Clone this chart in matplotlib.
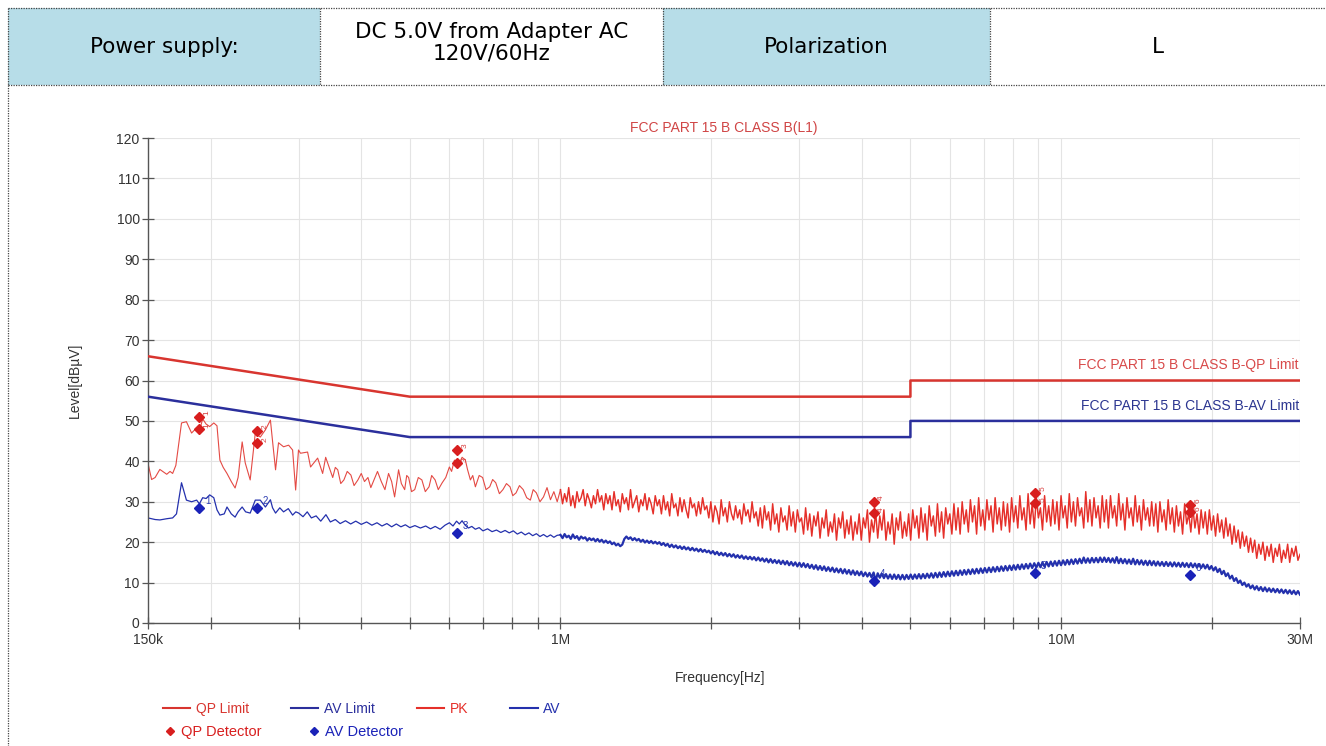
import numpy as np
import matplotlib
matplotlib.use("Agg")
import matplotlib.pyplot as plt
from matplotlib.patches import Rectangle
from matplotlib.lines import Line2D

# ---------------- data ----------------
# low-frequency part of the sweep (kHz, dBuV)
pk_low_freq_khz = [150, 152.5, 155, 158.4, 163.5, 166, 168, 170.5, 175, 179, 183.3, 187.6, 190, 192.9,
                   196, 199.2, 203, 206, 208.8, 212, 215.7, 220, 223.9, 227, 231.3, 234.6, 240, 245.7,
                   251.4, 257.4, 263.4, 266.5, 269.7, 273.4, 279.8, 286.4, 291.7, 295.8, 299.7, 302.5,
                   312.5, 316.8, 327.3, 334.9, 339.6, 350.8, 355, 359, 364, 369.3, 375, 381.4, 387,
                   393.9, 400, 406, 412.5, 418, 424.1, 431, 438.6, 446, 453.5, 460, 466.3, 474.9, 481,
                   488.4, 493, 497.4, 504, 511.5, 520, 528.6, 537, 546.3, 553, 561.8, 570, 580.4, 590,
                   599.9, 606, 613.9, 620, 628.2, 636, 645.7, 652, 660.8, 668, 676.1, 688, 698.9, 710,
                   722.2, 732, 742.5, 755, 767.4, 780, 792.9, 803, 815.2, 828, 842.5, 856, 870.6, 882,
                   895, 910, 924.9, 940, 955, 970, 985]
pk_low_level = [39.5, 35.5, 36, 38, 36.8, 37.5, 37, 39, 49.5, 49.8, 47, 48.3, 47.5, 50.5,
                49.2, 48.6, 49.5, 48.8, 40.3, 38.5, 37, 35, 33.4, 36, 44.8, 39.6, 35.4, 47,
                46, 47.8, 50.2, 44, 37.9, 44.6, 43.6, 44, 42.8, 32.9, 42.8, 42,
                42.3, 38.6, 40.8, 37, 41, 36, 38.5, 37.9, 34.5, 35.4, 37.5, 36.6, 34,
                35.4, 37, 35, 36, 33.5, 35.4, 37.5, 35, 33, 37, 35, 31.2, 37.9, 34.5,
                33, 36.5, 36, 32.5, 33, 36, 35.4, 32.5, 33.7, 36.5, 35.4, 33, 34.7, 36,
                38.6, 37.5, 40.3, 38.5, 39.6, 41, 40.3, 38, 35.4, 36.5, 33.7, 36.5, 36, 33,
                33.7, 35.5, 34.7, 32, 33, 34.5, 33.7, 31.5, 32.2, 34, 33, 31, 30.4, 33,
                32.2, 30, 31.2, 33.5, 30.5, 32.5, 30]

av_low_freq_khz = [150, 155, 158.4, 163.5, 168, 171, 175, 179, 183.3, 187.6, 190, 192.9, 196, 199.2,
                   203, 206, 208.8, 213, 215.7, 220, 223.9, 227, 231.3, 235, 240, 245.7, 251.4, 257.4,
                   263.4, 266, 269.7, 275, 279.8, 286, 291.7, 296, 300, 306, 312, 318, 325, 332, 340,
                   347, 355, 363, 372, 381, 390, 400, 410, 420, 430, 440, 450, 460, 470, 480, 490,
                   500, 512, 525, 538, 550, 562, 575, 588, 600, 610, 620, 628, 636, 645, 655, 665,
                   676, 688, 700, 715, 730, 745, 760, 775, 790, 805, 820, 835, 850, 865, 880, 895,
                   910, 925, 940, 955, 970, 985]
av_low_level = [26, 25.6, 25.5, 25.8, 26, 27, 34.7, 30.4, 30, 30.4, 29.5, 31, 30.8, 31.7,
                31, 28, 26.7, 27, 28.7, 27, 26.2, 27.5, 28.7, 27.5, 27.2, 30.4, 30.4, 28.7,
                30.5, 28.5, 27.2, 28.5, 27.5, 28.3, 26.7, 27.5, 27.2, 26.3, 27.5, 26, 26.5, 25.2, 26.8,
                25, 25.6, 24.6, 25.3, 24.5, 25.2, 24.4, 25, 24.2, 24.8, 24, 24.6, 23.8, 24.5, 23.8, 24.3,
                23.6, 24.1, 23.5, 24, 23.3, 23.9, 23.2, 24.2, 24.8, 24, 25.2, 24.5, 25.3, 24.2, 23.5, 23.9,
                23.2, 23.6, 22.8, 23.3, 22.6, 23, 22.4, 22.9, 22.3, 22.8, 22, 22.5, 21.8, 22.3, 21.6, 22.1,
                21.4, 21.9, 21.3, 21.8, 21.2, 21.7]

# 1 MHz - 30 MHz part of the sweep (equally spaced on the log axis)
n_high = 360
pk_high_level = [
    33, 29.5, 32, 30, 33.5, 29, 31.5, 28.5, 32.5, 30, 31, 33, 29, 32, 30.5, 28.5, 31.5, 29.5, 33, 30, 31.5, 28, 32, 29.5,
    31.5, 28, 32.5, 29, 30.5, 27.5, 32, 29.5, 31, 28, 33, 28.5, 30, 31.5, 27.5, 30.5, 29, 32, 28, 31, 29.5, 27, 31.5, 29,
    30.5, 27, 31.5, 28, 30, 26.5, 32, 28.5, 29.5, 26.5, 31, 27.5, 30.5, 28, 26, 31, 28.5, 29.5, 26.5, 30, 27, 31, 28, 29,
    26, 30, 25, 29, 27.5, 24.5, 30.5, 26.5, 28.5, 25, 30, 27, 25.5, 29, 26, 28, 24.5, 29.5, 26.5, 28, 25, 30, 26, 27.5,
    24, 28.5, 23.5, 29, 25.5, 27.5, 23, 29.5, 24.5, 27, 22.5, 28.5, 25, 26.5, 23, 29, 24, 27.5, 22.5, 28, 25, 26, 22, 28.5,
    23, 27, 21.5, 26.5, 24, 27.5, 21, 26, 23.5, 28, 21.5, 25, 22.5, 27, 20.5, 26, 23.5, 27.5, 21, 25.5, 22, 26.5, 20.5, 25,
    22, 27, 20.5, 26, 23.5, 28, 20, 25.5, 22.5, 27.5, 21, 26.5, 23, 28, 20.5, 25, 22, 27, 19.5, 26, 23, 27.5, 21, 25,
    21.5, 27, 20.5, 28, 23.5, 26.5, 21, 28.5, 22.5, 27, 20.5, 29, 24, 26.5, 21.5, 29.5, 22.5, 27.5, 21, 28.5, 24.5, 27, 22, 29.5,
    23, 28.5, 22, 30, 24.5, 28, 22.5, 30.5, 25, 29, 22, 31, 24, 28, 23, 30.5, 25.5, 29, 22.5, 31, 24.5, 28.5, 23, 30,
    24, 29.5, 22.5, 31, 25, 29, 23.5, 31.5, 25.5, 28.5, 23, 32, 24.5, 29.5, 23.5, 31, 26, 28.5, 23, 31.5, 25, 29, 24, 30.5,
    24.5, 30, 23, 31.5, 26, 29, 23.5, 32, 25, 30, 24, 31, 26.5, 28.5, 23.5, 32.5, 25, 30.5, 24, 31, 26, 29, 23.5, 31.5,
    25, 30.5, 23.5, 31.5, 26, 29, 24, 32, 25.5, 29.5, 23, 31, 26, 28.5, 24, 31.5, 25, 29, 23, 30.5, 25.5, 28.5, 24, 30,
    24, 29.5, 22.5, 30, 25, 28, 23, 30.5, 24.5, 28.5, 22.5, 29, 24, 27.5, 22, 29.5, 24.5, 27, 22.5, 28.5, 23.5, 27, 22, 28,
    23.5, 27.5, 22, 28, 23, 26.5, 21.5, 27, 22.5, 25.5, 21, 26, 21.5, 24.5, 19.5, 24, 20, 23, 18.5, 22.5, 19, 21.5, 17.5, 21,
    17.5, 20.5, 16, 19.5, 17, 20, 15.5, 19, 16.5, 19.5, 15, 18.5, 16.5, 19.5, 15, 18, 16, 19.5, 15, 18.5, 16.5, 19, 15.5, 17,
]
av_high_level = [
    21.8, 21, 22, 21.2, 21.6, 20.8, 21.9, 21, 21.5, 20.6, 21.4, 20.9, 21.2, 20.4, 21, 20.5, 20.9, 20.2, 20.8, 20.1, 20.6, 19.9, 20.4, 19.8,
    20.2, 19.5, 19.9, 19.2, 19.6, 19, 19.4, 20.8, 21.4, 20.8, 21.2, 20.5, 21, 20.4, 20.8, 20.1, 20.6, 19.9, 20.4, 19.8, 20.3, 19.7, 20.1, 19.6,
    20, 19.3, 19.8, 19.1, 19.6, 18.8, 19.4, 18.7, 19.2, 18.5, 19, 18.3, 18.9, 18.2, 18.7, 18, 18.6, 17.9, 18.4, 17.7, 18.3, 17.6, 18.1, 17.5,
    17.9, 17.2, 17.8, 17, 17.6, 16.8, 17.4, 16.7, 17.3, 16.5, 17.1, 16.4, 17, 16.2, 16.8, 16.1, 16.7, 15.9, 16.5, 15.8, 16.4, 15.7, 16.3, 15.5,
    16.2, 15.4, 16, 15.2, 15.9, 15, 15.8, 14.9, 15.6, 14.8, 15.5, 14.6, 15.4, 14.5, 15.3, 14.3, 15.1, 14.2, 15, 14, 14.9, 13.9, 14.8, 13.8,
    14.6, 13.6, 14.4, 13.4, 14.3, 13.2, 14.1, 13.1, 14, 12.9, 13.8, 12.8, 13.7, 12.6, 13.5, 12.5, 13.4, 12.3, 13.3, 12.2, 13.1, 12, 13, 11.9,
    12.8, 11.8, 12.7, 11.6, 12.5, 11.5, 12.4, 11.3, 12.5, 10.5, 12.3, 11.2, 12.2, 11.1, 12.1, 11, 12, 10.9, 12, 10.9, 11.9, 10.8, 11.9, 10.8,
    11.9, 10.9, 12, 10.9, 12, 11, 12.1, 11, 12.1, 11.1, 12.2, 11.2, 12.3, 11.2, 12.4, 11.3, 12.5, 11.4, 12.6, 11.5, 12.7, 11.6, 12.8, 11.7,
    12.9, 11.8, 13, 11.9, 13.1, 12, 13.2, 12.1, 13.3, 12.2, 13.4, 12.3, 13.5, 12.4, 13.6, 12.5, 13.7, 12.6, 13.8, 12.7, 13.9, 12.8, 14, 12.9,
    14.1, 13, 14.2, 13.1, 14.3, 13.2, 14.4, 13.3, 14.5, 13.4, 14.6, 13.5, 14.7, 13.6, 14.8, 13.7, 14.9, 13.8, 15, 13.9, 15.1, 14, 15.2, 14.1,
    15.3, 14.2, 15.4, 14.3, 15.5, 14.4, 15.6, 14.5, 15.7, 14.6, 15.8, 14.7, 15.9, 14.8, 16.2, 14.9, 16, 14.9, 16.1, 15, 16.1, 15, 16.2, 15.1,
    16.2, 15.1, 16.1, 15, 16, 14.9, 16.3, 14.8, 15.9, 14.8, 15.8, 14.7, 15.7, 14.6, 15.9, 14.5, 15.6, 14.5, 15.5, 14.4, 15.4, 14.3, 15.4, 14.3,
    15.3, 14.2, 15.2, 14.2, 15.1, 14.1, 15.1, 14.1, 15, 14, 15, 14, 14.9, 13.9, 14.9, 13.9, 14.8, 13.8, 14.8, 13.8, 14.7, 13.7, 14.6, 13.6,
    14.5, 13.5, 14.4, 13.3, 14.1, 13, 13.8, 12.6, 13.4, 12.1, 12.9, 11.6, 12.3, 11, 11.7, 10.4, 11.1, 9.9, 10.5, 9.4, 10, 9, 9.6, 8.6,
    9.3, 8.3, 9.1, 8.1, 8.9, 7.9, 8.8, 7.8, 8.6, 7.7, 8.5, 7.6, 8.4, 7.5, 8.3, 7.4, 8.2, 7.3, 8.1, 7.2, 8, 7.1, 7.9, 7,
]

# limits (Hz, dBuV)
qp_limit_freq = [150e3, 500e3, 5e6, 5e6, 30e6]
qp_limit_level = [66, 56, 56, 60, 60]
av_limit_freq = [150e3, 500e3, 5e6, 5e6, 30e6]
av_limit_level = [56, 46, 46, 50, 50]

# detector readings
det_freq_khz = [190, 248, 622, 4230, 8880, 18100]
qp_det_hi = [51.0, 47.5, 42.8, 30.0, 32.2, 29.2]
qp_det_lo = [48.0, 44.6, 39.6, 27.2, 29.7, 27.5]
av_det = [28.5, 28.5, 22.3, 10.3, 12.4, 11.9]

x_ticks = [150e3, 1e6, 10e6, 30e6]
x_tick_labels = ["150k", "1M", "10M", "30M"]
y_ticks = list(range(0, 121, 10))

header_cells = ["Power supply:", "DC 5.0V from Adapter AC\n120V/60Hz", "Polarization", "L"]

# ---------------- figure ----------------
W, H = 1326, 746
NARROW = ['Liberation Sans Narrow', 'Liberation Sans', 'DejaVu Sans']
WIDE = ['DejaVu Sans']
fig = plt.figure(figsize=(W / 100, H / 100), dpi=100)
fig.patch.set_facecolor('white')

# overlay in pixel coordinates for the table
bg = fig.add_axes([0, 0, 1, 1], zorder=0)
bg.set_xlim(0, W)
bg.set_ylim(H, 0)
bg.axis('off')

col_edges = [8, 320, 663, 990, 1326]
row_top, row_bot = 8, 85
cell_fill = ['#b7dde8', 'white', '#b7dde8', 'white']
dot = dict(color='#444444', lw=0.9, linestyle=(0, (1, 1)))
for i, txt in enumerate(header_cells):
    x0, x1 = col_edges[i], col_edges[i + 1]
    bg.add_patch(Rectangle((x0, row_top), x1 - x0, row_bot - row_top, facecolor=cell_fill[i], edgecolor='none'))
    yc = 43 if '\n' in txt else 47
    bg.text((x0 + x1) / 2, yc, txt, ha='center', va='center',
            fontsize=15.5, family=WIDE, color='black', linespacing=1.12)
bg.plot([8, W], [row_top, row_top], **dot)
bg.plot([8, W], [row_bot, row_bot], **dot)
for xe in col_edges[:-1]:
    bg.plot([xe, xe], [row_top, row_bot], **dot)
bg.plot([8, 8], [row_bot, H], **dot)

# ---------------- chart ----------------
ax = fig.add_axes([148 / W, 1 - 623 / H, (1300 - 148) / W, (623 - 138) / H], zorder=1)
ax.set_facecolor('none')
ax.set_xscale('log')

pk_low_freq = np.array(pk_low_freq_khz) * 1e3
av_low_freq = np.array(av_low_freq_khz) * 1e3
high_freq = np.geomspace(1e6, 30e6, n_high)

red_lim = '#d8352f'
blue_lim = '#2b2f9c'
red_tr = '#e5302a'
blue_tr = '#2431ad'

ax.plot(qp_limit_freq, qp_limit_level, color=red_lim, lw=1.8, zorder=3)
ax.plot(av_limit_freq, av_limit_level, color=blue_lim, lw=1.8, zorder=3)
# PK trace: low part thin, dense high part drawn a little heavier
ax.plot(np.concatenate([pk_low_freq, high_freq[:1]]), pk_low_level + pk_high_level[:1],
        color='#e44a44', lw=0.8, zorder=2)
ax.plot(high_freq, pk_high_level, color=red_tr, lw=1.05, zorder=2)
ax.plot(np.concatenate([av_low_freq, high_freq[:1]]), av_low_level + av_high_level[:1],
        color=blue_tr, lw=0.9, zorder=2)
ax.plot(high_freq, av_high_level, color=blue_tr, lw=1.6, zorder=2)

det_freq = np.array(det_freq_khz) * 1e3
ax.plot(det_freq, qp_det_hi, 'D', color='#d81e1e', ms=5.5, zorder=4)
ax.plot(det_freq, qp_det_lo, 'D', color='#d81e1e', ms=5.5, zorder=4)
ax.plot(det_freq, av_det, 'D', color='#1a22b8', ms=5.5, zorder=4)
for i, f in enumerate(det_freq):
    ax.annotate(str(i + 1), (f, qp_det_hi[i]), xytext=(3, 3), textcoords='offset points',
                fontsize=6, color='#d84040', rotation=90, family=NARROW)
    ax.annotate(str(i + 1), (f, qp_det_lo[i]), xytext=(3, 2), textcoords='offset points',
                fontsize=6, color='#d84040', rotation=90, family=NARROW)
    ax.annotate(str(i + 1), (f, av_det[i]), xytext=(4, 3), textcoords='offset points',
                fontsize=7, color='#2a3ab0', family=NARROW)

ax.set_xlim(150e3, 30e6)
ax.set_ylim(0, 120)
ax.set_yticks(y_ticks)
ax.set_xticks(x_ticks)
ax.set_xticklabels(x_tick_labels)
minor = [k * 1e5 for k in range(2, 10)] + [k * 1e6 for k in range(2, 10)] + [2e7]
ax.set_xticks(minor, minor=True)
ax.xaxis.set_minor_formatter(matplotlib.ticker.NullFormatter())
ax.tick_params(axis='both', which='both', direction='inout', length=8, width=0.9, color='#555555',
               labelsize=10, labelcolor='#333333')
ax.tick_params(axis='y', pad=2)
ax.tick_params(axis='x', pad=3)
for lab in ax.get_xticklabels() + ax.get_yticklabels():
    lab.set_family(NARROW)
ax.grid(True, which='both', color='#e4e4e4', lw=0.8)
ax.set_axisbelow(True)
for s in ['top', 'right']:
    ax.spines[s].set_visible(False)
for s in ['left', 'bottom']:
    ax.spines[s].set_color('#555555')
    ax.spines[s].set_linewidth(1.0)

ax.set_title('FCC PART 15 B CLASS B(L1)', color='#d04545', fontsize=10, family=NARROW, pad=4)
ax.set_ylabel('Level[dBµV]', fontsize=10, family=NARROW, color='#333333')
ax.yaxis.set_label_coords(-0.057, 0.5)
ax.set_xlabel('Frequency[Hz]', fontsize=10, family=NARROW, color='#333333')
ax.xaxis.set_label_coords(0.4965, -0.099)

ax.text(0.999, qp_limit_level[-1] + 2, 'FCC PART 15 B CLASS B-QP Limit', transform=ax.get_yaxis_transform(),
        ha='right', va='bottom', fontsize=10, color='#d84a4a', family=NARROW)
ax.text(0.999, av_limit_level[-1] + 2, 'FCC PART 15 B CLASS B-AV Limit', transform=ax.get_yaxis_transform(),
        ha='right', va='bottom', fontsize=10, color='#2b3590', family=NARROW)

# legends
h1 = [Line2D([], [], color=red_lim, lw=1.5), Line2D([], [], color=blue_lim, lw=1.5),
      Line2D([], [], color=red_tr, lw=1.5), Line2D([], [], color=blue_tr, lw=1.5)]
l1 = fig.legend(h1, ['QP Limit', 'AV Limit', 'PK', 'AV'], ncol=4, frameon=False, loc='center left',
                bbox_to_anchor=(150 / W, 1 - 709 / H), handlelength=2.0, handletextpad=0.4,
                columnspacing=3.0, labelcolor='linecolor', prop={'family': NARROW, 'size': 10})
h2 = [Line2D([], [], color='#d81e1e', marker='D', ls='none', ms=4),
      Line2D([], [], color='#1a22b8', marker='D', ls='none', ms=4)]
l2 = fig.legend(h2, ['QP Detector', 'AV Detector'], ncol=2, frameon=False, loc='center left',
                bbox_to_anchor=(150 / W, 1 - 732 / H), handlelength=1.0, handletextpad=0.25,
                columnspacing=3.1, labelcolor='linecolor', prop={'family': NARROW, 'size': 10.5})

fig.savefig('out.png', dpi=100, facecolor='white')
